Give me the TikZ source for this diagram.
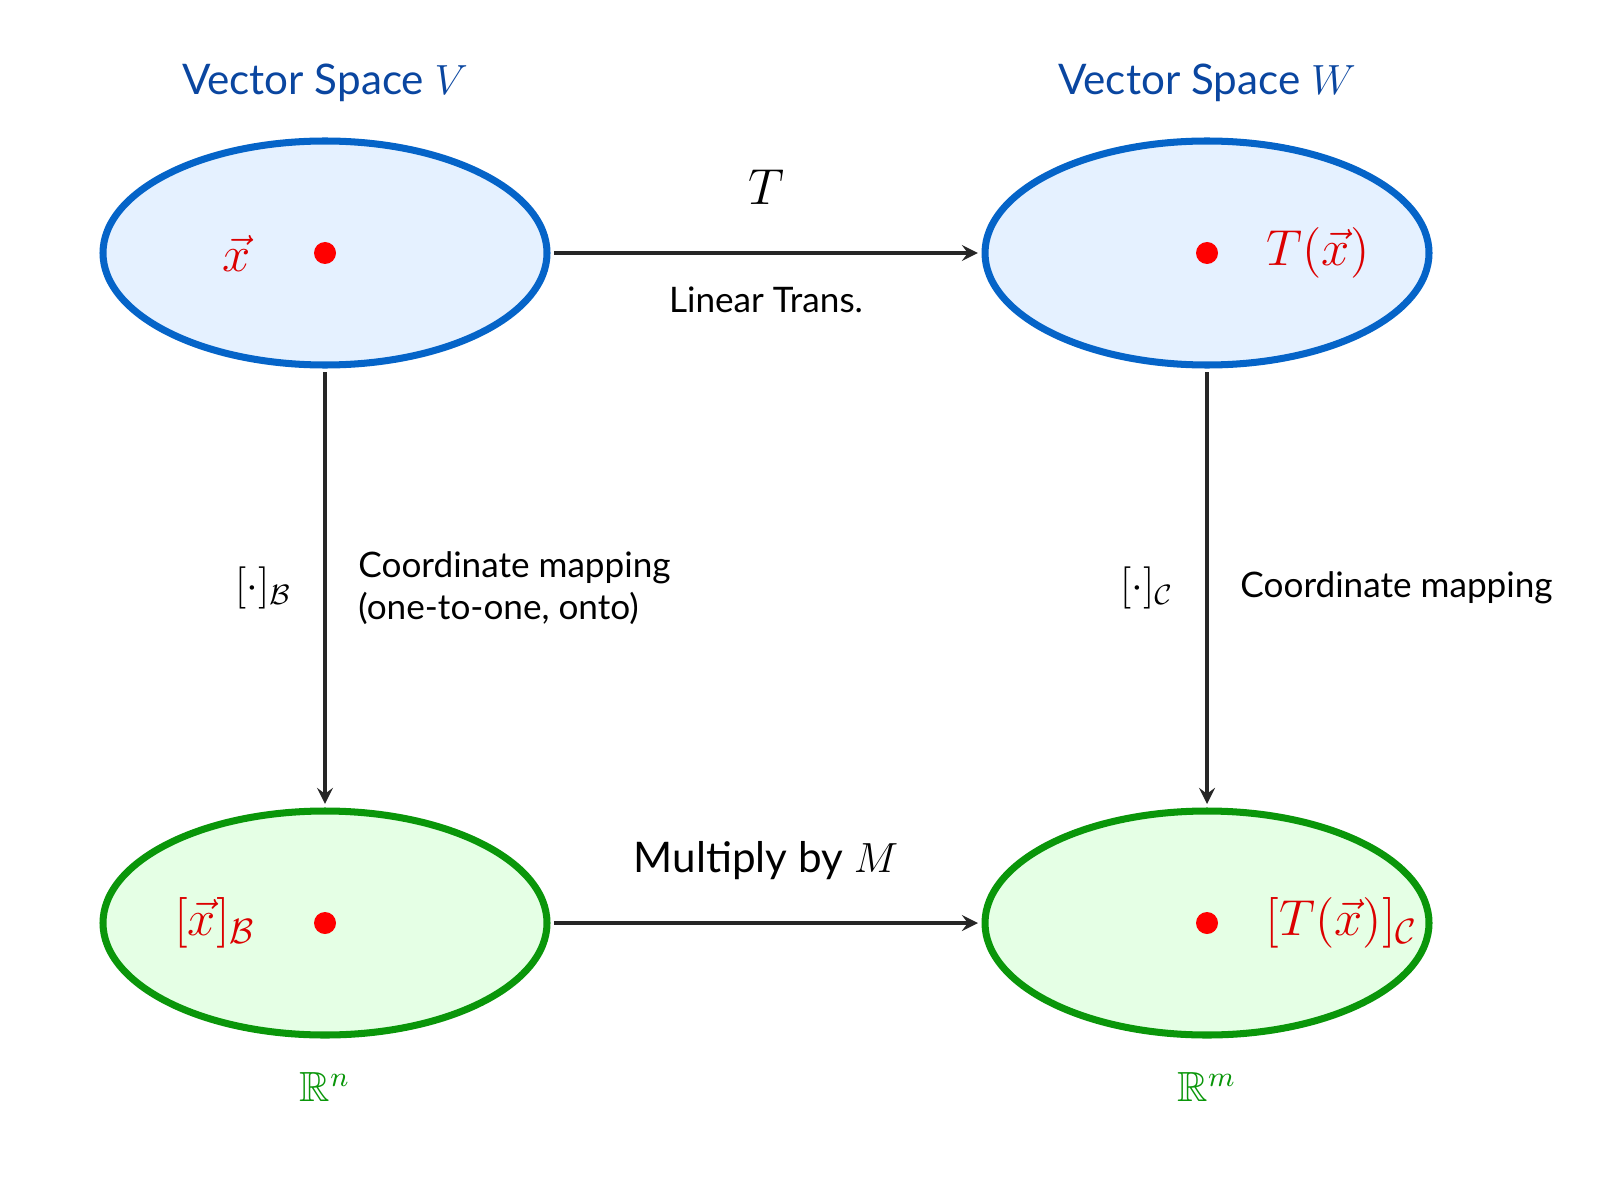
\documentclass[tikz,border=0pt]{standalone}
\usepackage{amsmath,amssymb}
\usepackage{fontspec}
\setmainfont{Lato}
\usepackage{xcolor}
\usetikzlibrary{shapes,positioning}
\definecolor{spblue}{RGB}{10,70,160}
\definecolor{spline}{RGB}{5,100,200}
\definecolor{spgreen}{RGB}{10,150,10}
\definecolor{ptred}{RGB}{220,0,0}
\definecolor{vfill}{RGB}{229,241,255}
\definecolor{rfill}{RGB}{229,255,229}
\tikzset{space/.style={ellipse,draw,line width=2pt,minimum width=4.44cm,minimum height=2.24cm,outer sep=2pt},
  vsp/.style={space,draw=spline,fill=vfill},
  rsp/.style={space,draw=spgreen,fill=rfill},
  pt/.style={circle,fill=red,inner sep=0pt,minimum size=0.22cm},
  map/.style={->,>=stealth,line width=1pt,draw=black!85}}

\begin{document}
\begin{tikzpicture}
        \useasboundingbox (0,0) rectangle (16,12);
        \node[vsp] (v) at (3.25,9.47) {};
        \node[vsp] (w) at (12.07,9.47) {};
        \node[rsp] (rn) at (3.25,2.77) {};
        \node[rsp] (rm) at (12.07,2.77) {};
        \node[pt] (x) at (v) {};
        \node[pt] (tx) at (w) {};
        \node[pt] (xb) at (rn) {};
        \node[pt] (txc) at (rm) {};

        \node[text=spblue,font=\large] (lv) at (3.25,11.17) {Vector Space $V$};
        \node[text=spblue,font=\large] (lw) at (12.07,11.17) {Vector Space $W$};
        \node[text=spgreen,font=\large] (ln) at (3.25,1.13) {$\mathbb{R}^n$};
        \node[text=spgreen,font=\large] (lm) at (12.07,1.13) {$\mathbb{R}^m$};
        \node[text=ptred,font=\Large] at (2.37,9.47) {$\vec{x}$};
        \node[text=ptred,font=\Large] at (13.18,9.47) {$T(\vec{x})$};
        \node[text=ptred,font=\Large] at (2.15,2.77) {$[\vec{x}]_{\mathcal{B}}$};
        \node[text=ptred,font=\Large] at (13.42,2.77) {$[T(\vec{x})]_{\mathcal{C}}$};

        \draw [map] (v) to node[above=0.35cm,font=\Large]{$T$} node[below=0.2cm]{Linear Trans.} (w);
        \draw [map] (rn) to node[above=0.3cm,font=\large]{Multiply by $M$} (rm);
        \draw [map] (v) to node[left=0.2cm,font=\large]{$[\cdot]_{\mathcal{B}}$} node[right=0.2cm,align=left]{Coordinate mapping\\(one-to-one, onto)} (rn);
        \draw [map] (w) to node[left=0.2cm,font=\large]{$[\cdot]_{\mathcal{C}}$} node[right=0.2cm]{Coordinate mapping} (rm);
    \end{tikzpicture}
\end{document}
